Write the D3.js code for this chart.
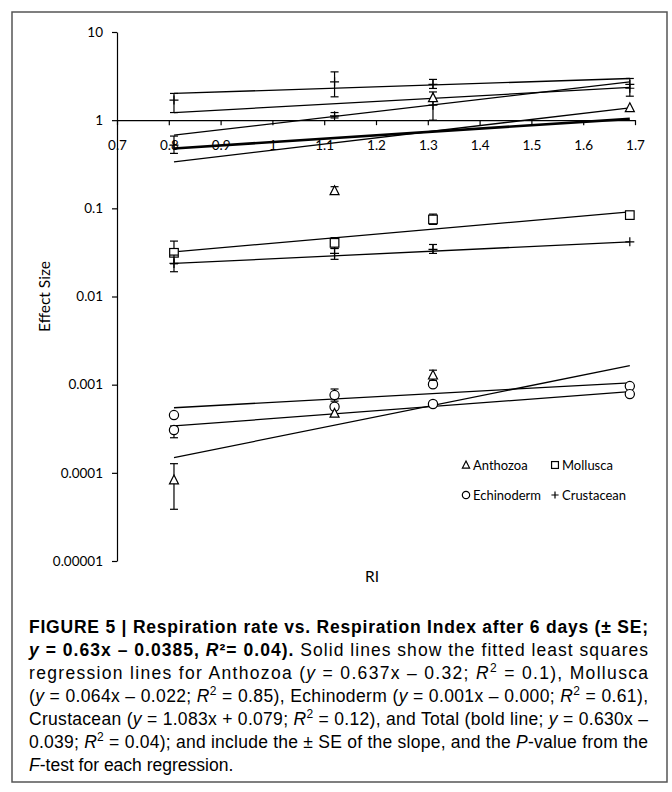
<!DOCTYPE html>
<html><head><meta charset="utf-8">
<script src="https://cdn.jsdelivr.net/npm/d3@7/dist/d3.min.js"></script>
<style>body{margin:0;background:#fff}</style>
</head><body>
<svg id="c" width="672" height="792" xmlns="http://www.w3.org/2000/svg"></svg>
<script>
// ---------- data ----------
const xTicks = [0.7, 0.8, 0.9, 1.0, 1.1, 1.2, 1.3, 1.4, 1.5, 1.6, 1.7];
const xTickLabels = ["0.7","0.8","0.9","1","1.1","1.2","1.3","1.4","1.5","1.6","1.7"];
const yTicks = [10, 1, 0.1, 0.01, 0.001, 0.0001, 0.00001];
const yTickLabels = ["10","1","0.1","0.01","0.001","0.0001","0.00001"];
const fitX = [0.81, 1.69];

// points: [RI, value, low, high] (low/high null = no error bar)
const anthozoa = [
  [1.12, 0.158, 0.148, 0.176],
  [1.31, 1.79, 1.0, 2.09],
  [1.69, 1.38, null, null],
  [0.81, 0.0000828, 0.0000386, 0.000127],
  [1.12, 0.000472, null, null],
  [1.31, 0.00128, 0.00112, 0.00146]
];
const mollusca = [
  [0.81, 0.0313, 0.0235, 0.0425],
  [1.12, 0.0406, 0.035, 0.0465],
  [1.31, 0.0748, 0.0657, 0.086],
  [1.69, 0.0838, null, null]
];
const echinoderm = [
  [0.81, 0.000452, null, null],
  [0.81, 0.000306, 0.00025, 0.00034],
  [1.12, 0.000762, 0.00065, 0.000893],
  [1.12, 0.000562, null, null],
  [1.31, 0.00101, null, null],
  [1.31, 0.000603, null, null],
  [1.69, 0.000964, null, null],
  [1.69, 0.000782, null, null]
];
const crustacean = [
  [0.81, 1.69, 1.22, 2.01],
  [0.81, 0.52, 0.42, 0.66],
  [1.12, 2.72, 1.84, 3.53],
  [1.12, 1.12, 1.06, 1.22],
  [1.31, 2.54, 2.29, 2.9],
  [1.31, 1.48, null, null],
  [1.69, 2.54, 1.87, 2.97],
  [1.69, 2.30, null, null],
  [0.81, 0.0237, 0.0191, 0.0295],
  [1.12, 0.0308, 0.0264, 0.0351],
  [1.31, 0.0342, 0.0308, 0.0389],
  [1.69, 0.0417, null, null]
];
// fitted lines: value at RI 0.81 and at RI 1.69
const fitLines = [
  [2.01, 2.97],
  [1.22, 2.35],
  [0.676, 2.72],
  [0.337, 1.38],
  [0.0321, 0.0912],
  [0.0237, 0.0417],
  [0.000547, 0.00105],
  [0.00034, 0.000832],
  [0.000149, 0.00164]
];
const totalLine = [0.478, 1.035];

const legendItems = [["tri","Anthozoa"],["sq","Mollusca"],["circ","Echinoderm"],["plus","Crustacean"]];

const captionLines = [
  [["b","FIGURE 5 | Respiration rate vs. Respiration Index after 6 days (± SE;"]],
  [["bi","y"],["b"," = 0.63x – 0.0385, "],["bi","R"],["b","²= 0.04)."],["n"," Solid lines show the fitted least squares"]],
  [["n","regression lines for Anthozoa ("],["i","y"],["n"," = 0.637x – 0.32; "],["i","R"],["sup","2"],["n"," = 0.1), Mollusca"]],
  [["n","("],["i","y"],["n"," = 0.064x – 0.022; "],["i","R"],["sup","2"],["n"," = 0.85), Echinoderm ("],["i","y"],["n"," = 0.001x – 0.000; "],["i","R"],["sup","2"],["n"," = 0.61),"]],
  [["n","Crustacean ("],["i","y"],["n"," = 1.083x + 0.079; "],["i","R"],["sup","2"],["n"," = 0.12), and Total (bold line; "],["i","y"],["n"," = 0.630x –"]],
  [["n","0.039; "],["i","R"],["sup","2"],["n"," = 0.04); and include the ± SE of the slope, and the "],["i","P"],["n","-value from the"]],
  [["i","F"],["n","-test for each regression."]]
];

// ---------- drawing ----------
const svg = d3.select("#c");
const chartFont = "Lato, 'Open Sans', sans-serif";
const capFont = "'Liberation Sans', Arial, sans-serif";

svg.append("rect").attr("x",12).attr("y",12).attr("width",655).attr("height",770)
  .attr("fill","none").attr("stroke","#555").attr("stroke-width",1.5);

const x = d3.scaleLinear().domain([0.7,1.7]).range([117,635]);
const y = d3.scaleLog().domain([0.00001,10]).range([561,32]);

const xAxis = d3.axisBottom(x).tickValues(xTicks).tickFormat((d,i)=>xTickLabels[i])
  .tickSize(5).tickSizeOuter(0).tickPadding(15);
const gx = svg.append("g").attr("transform",`translate(0,${y(1)})`).call(xAxis);
const yAxis = d3.axisLeft(y).tickValues(yTicks).tickFormat((d,i)=>yTickLabels[i])
  .tickSize(5).tickSizeOuter(0).tickPadding(9);
const gy = svg.append("g").attr("transform",`translate(${x(0.7)},0)`).call(yAxis);
[gx,gy].forEach(g=>{
  g.selectAll("path,line").attr("stroke","#000").attr("stroke-width",1.2);
  g.selectAll("text").attr("font-family",chartFont).attr("font-size",13.5).attr("fill","#000");
});

// fitted lines
const line = d3.line().x(d=>x(d[0])).y(d=>y(d[1]));
svg.append("g").selectAll("path").data(fitLines).join("path")
  .attr("d",d=>line([[fitX[0],d[0]],[fitX[1],d[1]]]))
  .attr("fill","none").attr("stroke","#000").attr("stroke-width",1.3);
svg.append("path").attr("d",line([[fitX[0],totalLine[0]],[fitX[1],totalLine[1]]]))
  .attr("fill","none").attr("stroke","#000").attr("stroke-width",2.6);

// markers
function marker(g, type, s){
  if(type==="tri") g.append("path").attr("d",`M0,${-5*s}L${4.5*s},${3.8*s}L${-4.5*s},${3.8*s}Z`);
  else if(type==="sq") g.append("rect").attr("x",-4.3*s).attr("y",-4.3*s).attr("width",8.6*s).attr("height",8.6*s);
  else if(type==="circ") g.append("circle").attr("r",4.6*s);
  else g.append("path").attr("d",`M${-4.5*s},0H${4.5*s}M0,${-4.5*s}V${4.5*s}`);
  g.selectAll("*").attr("fill",type==="plus"?"none":"#fff").attr("stroke","#000").attr("stroke-width",1.2);
}
function drawSeries(data, type){
  const g = svg.append("g");
  data.forEach(d=>{
    if(d[2]!=null){
      const eg = g.append("g").attr("stroke","#000").attr("stroke-width",1.2);
      eg.append("line").attr("x1",x(d[0])).attr("x2",x(d[0])).attr("y1",y(d[2])).attr("y2",y(d[3]));
      [d[2],d[3]].forEach(v=>eg.append("line").attr("x1",x(d[0])-4).attr("x2",x(d[0])+4).attr("y1",y(v)).attr("y2",y(v)));
    }
  });
  data.forEach(d=>{
    const mg = g.append("g").attr("transform",`translate(${x(d[0])},${y(d[1])})`);
    marker(mg,type,1);
  });
}
drawSeries(mollusca,"sq");
drawSeries(crustacean,"plus");
drawSeries(echinoderm,"circ");
drawSeries(anthozoa,"tri");

// legend
const lg = svg.append("g");
legendItems.forEach((it,i)=>{
  const lx = 466 + (i%2)*89, ly = 465 + Math.floor(i/2)*30;
  const mg = lg.append("g").attr("transform",`translate(${lx},${ly})`);
  marker(mg,it[0],0.8);
  lg.append("text").attr("x",lx+7).attr("y",ly).attr("dy","0.35em")
    .attr("font-family",chartFont).attr("font-size",13).text(it[1]);
});

// axis titles
svg.append("text").attr("transform",`translate(50,${y(0.01)}) rotate(-90)`)
  .attr("text-anchor","middle").attr("font-family",chartFont).attr("font-size",15.5).text("Effect Size");
svg.append("text").attr("x",372).attr("y",577).attr("dy","0.35em").attr("text-anchor","middle")
  .attr("font-family",chartFont).attr("font-size",15.5).text("RI");

// caption
const capG = svg.append("g").attr("font-family",capFont).attr("font-size",17.5).attr("fill","#000");
captionLines.forEach((segs,li)=>{
  const t = capG.append("text").attr("x",29).attr("y",633+li*23);
  if(li<6) t.attr("textLength",619).attr("lengthAdjust","spacing");
  let prevSup=false;
  segs.forEach(s=>{
    const ts = t.append("tspan").text(s[1]);
    if(s[0]==="b"||s[0]==="bi") ts.attr("font-weight","bold");
    if(s[0]==="i"||s[0]==="bi") ts.attr("font-style","italic");
    if(s[0]==="sup"){ ts.attr("font-size",12).attr("dy",-7); prevSup=true; }
    else if(prevSup){ ts.attr("dy",7); prevSup=false; }
  });
});
</script>
</body></html>
